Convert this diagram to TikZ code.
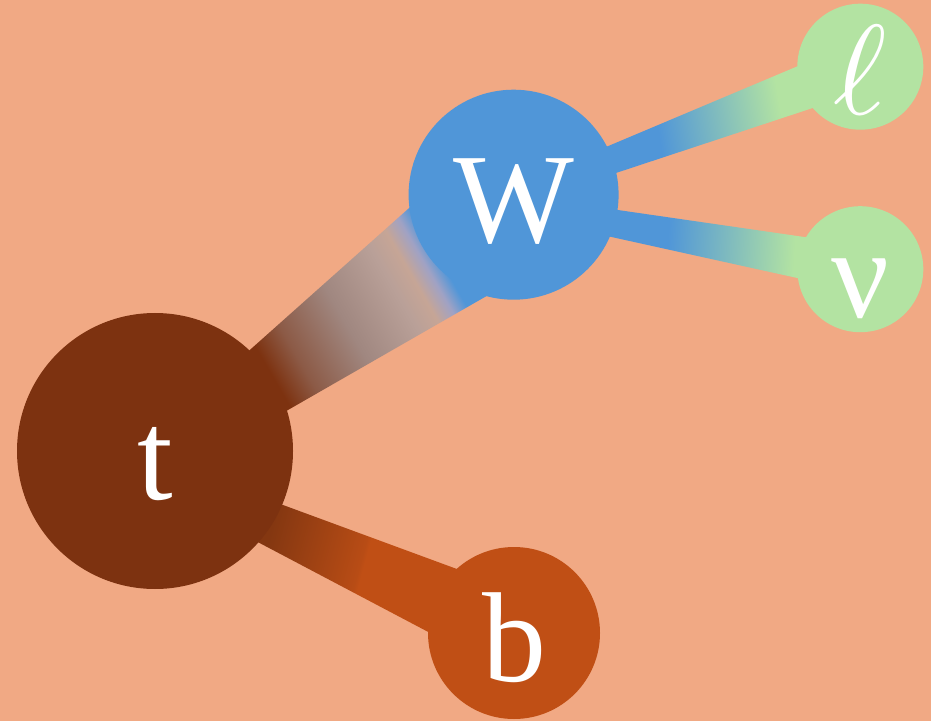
\documentclass[tikz,border=0pt]{standalone}
\usepackage{fontspec}
\setmainfont{Liberation Serif}
\usetikzlibrary{calc,backgrounds}
% scalable math letters for the big labels
\DeclareFontShape{OML}{cmm}{m}{it}{<->cmmi10}{}

\definecolor{salmon}{HTML}{F1A984}
\definecolor{tbrown}{HTML}{7D3210}
\definecolor{borange}{HTML}{C04F15}
\definecolor{wblue}{HTML}{5096D8}
\definecolor{lgreen}{HTML}{B3E3A2}

\pgfdeclarelayer{bands}
\pgfsetlayers{background,bands,main}

% colour bands between the particles
\pgfdeclarehorizontalshading{twband}{100bp}{color(0bp)=(tbrown); color(36.5bp)=(tbrown);
  color(40.6bp)=(rgb,255:red,140;green,90;blue,70); color(48.4bp)=(rgb,255:red,160;green,135;blue,128);
  color(56.2bp)=(rgb,255:red,185;green,160;blue,152); color(59.1bp)=(rgb,255:red,198;green,165;blue,150);
  color(61.4bp)=(rgb,255:red,160;green,162;blue,196); color(63.4bp)=(wblue); color(100bp)=(wblue)}
\pgfdeclarehorizontalshading{tbband}{100bp}{color(0bp)=(tbrown); color(39.8bp)=(rgb,255:red,132;green,55;blue,17);
  color(53.3bp)=(rgb,255:red,184;green,76;blue,21); color(53.9bp)=(borange); color(100bp)=(borange)}
\pgfdeclarehorizontalshading{wlband}{100bp}{color(0bp)=(wblue); color(45.1bp)=(wblue);
  color(54.5bp)=(wblue!50!lgreen); color(63.9bp)=(lgreen); color(100bp)=(lgreen)}
\pgfdeclarehorizontalshading{wnband}{100bp}{color(0bp)=(wblue); color(47.1bp)=(wblue);
  color(56.5bp)=(wblue!50!lgreen); color(65.8bp)=(lgreen); color(100bp)=(lgreen)}

\newcommand{\partfont}{\fontsize{128}{128}\selectfont}

\begin{document}
\begin{tikzpicture}
[x=1pt,y=1pt,every node/.style={circle,inner sep=0pt,text=white,font=\partfont,text height=96pt,text depth=0pt}]
\useasboundingbox (0,0) rectangle (931,721);
\begin{pgfonlayer}{background}
\fill[salmon] (0,0) rectangle (931,721);
\end{pgfonlayer}
\node[fill=tbrown,minimum size=276pt] (t) at (155,270) {t};
\node[fill=wblue,minimum size=210pt] (W) at (513.6,526.3) {W};
\node[fill=borange,minimum size=172pt] (b) at (514,88) {b};
\node[fill=lgreen,minimum size=126pt] (lep) at (860.3,654.3) {$\ell$};
\node[fill=lgreen,minimum size=126pt] (nu) at (860.3,451.8) {ν};
\begin{pgfonlayer}{bands}
\foreach \from/\to/\shd/\ang/\la/\ra/\lb/\rb in {t/W/twband/29.96/12.4pt/30.8pt/59.9pt/74.8pt,
  t/b/tbband/-15.27/-6.5pt/32.6pt/40.6pt/39.1pt,
  W/lep/wlband/9.49/8.1pt/11.5pt/24.8pt/24.3pt,
  W/nu/wnband/-3.32/-0.2pt/20.2pt/23.9pt/22.2pt}
\shade[shading=\shd,shading angle=\ang] ($(\from)!\la!90:(\to)$) -- ($(\to)!\lb!-90:(\from)$)
  -- ($(\to)!\rb!90:(\from)$) -- ($(\from)!\ra!-90:(\to)$) -- cycle;
\end{pgfonlayer}
\end{tikzpicture}
\end{document}
